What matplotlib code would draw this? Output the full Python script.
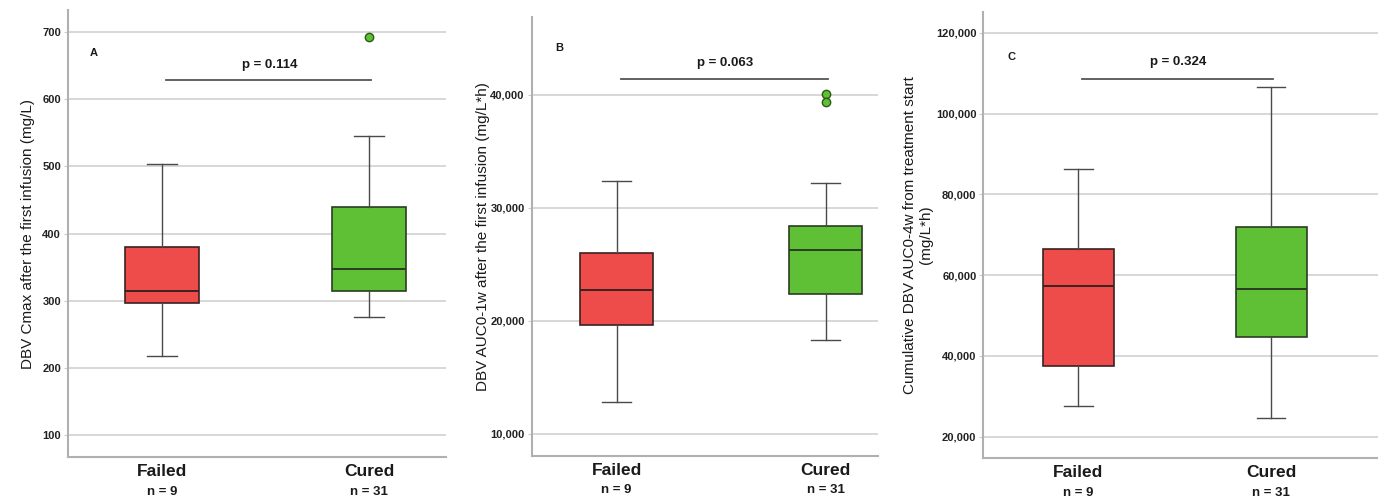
import matplotlib.pyplot as plt
from matplotlib.ticker import FuncFormatter
import numpy as np

plt.rcParams['font.family'] = ['Liberation Sans', 'DejaVu Sans']

groups = ['Failed', 'Cured']
n_labels = ['n = 9', 'n = 31']

# box stats: [Failed, Cured]
a_lo = [217, 276]
a_q1 = [296, 314]
a_med = [314, 347]
a_q3 = [380, 439]
a_hi = [504, 545]
a_fliers = [[], [693]]

b_lo = [12800, 18300]
b_q1 = [19650, 22400]
b_med = [22700, 26300]
b_q3 = [26050, 28450]
b_hi = [32350, 32250]
b_fliers = [[], [40050, 39350]]

c_lo = [27700, 24550]
c_q1 = [37600, 44600]
c_med = [57400, 56650]
c_q3 = [66400, 71800]
c_hi = [86200, 106600]
c_fliers = [[], []]

p_values = ['p = 0.114', 'p = 0.063', 'p = 0.324']
panel_tags = ['A', 'B', 'C']
ylabels = ['DBV Cmax after the first infusion (mg/L)',
           'DBV AUC0-1w after the first infusion (mg/L*h)',
           'Cumulative DBV AUC0-4w from treatment start\n(mg/L*h)']

fills = ['#EE4B4B', '#5FC036']
edges = ['#3b2222', '#2a3d22']

fig = plt.figure(figsize=(13.78, 4.98), dpi=100)

panels = [
    dict(pos=[0.0493, 0.0823, 0.2744, 0.8976], lo=a_lo, q1=a_q1, med=a_med, q3=a_q3, hi=a_hi,
         fl=a_fliers, ylim=(67, 733), xlim=(-0.455, 1.373), ticks=[100, 200, 300, 400, 500, 600, 700],
         fmt='{:.0f}', bracket=628, ptext=651, tag=(-0.33, 669), width=0.36, labx=35),
    dict(pos=[0.3858, 0.0843, 0.2511, 0.8815], lo=b_lo, q1=b_q1, med=b_med, q3=b_q3, hi=b_hi,
         fl=b_fliers, ylim=(8050, 46900), xlim=(-0.407, 1.249), ticks=[10000, 20000, 30000, 40000],
         fmt='{:,.0f}', bracket=41390, ptext=42860, tag=(-0.276, 44130), width=0.35, labx=490),
    dict(pos=[0.7136, 0.0809, 0.2864, 0.8956], lo=c_lo, q1=c_q1, med=c_med, q3=c_q3, hi=c_hi,
         fl=c_fliers, ylim=(14800, 125200), xlim=(-0.493, 1.555), ticks=[20000, 40000, 60000, 80000, 100000, 120000],
         fmt='{:,.0f}', bracket=108600, ptext=112750, tag=(-0.347, 114060), width=0.368, labx=933),
]

for i, p in enumerate(panels):
    ax = fig.add_axes(p['pos'])
    for k in range(2):
        st = dict(whislo=p['lo'][k], q1=p['q1'][k], med=p['med'][k],
                  q3=p['q3'][k], whishi=p['hi'][k], fliers=p['fl'][k])
        ax.bxp([st], positions=[k], widths=p['width'], patch_artist=True,
               showfliers=True,
               boxprops=dict(facecolor=fills[k], edgecolor=edges[k], linewidth=1.2),
               medianprops=dict(color=edges[k], linewidth=1.4),
               whiskerprops=dict(color='#4a4a4a', linewidth=1.0),
               capprops=dict(color='#4a4a4a', linewidth=1.0),
               capwidths=p['width'] * 0.4,
               flierprops=dict(marker='o', markerfacecolor=fills[k], markeredgecolor='#2a5a1a',
                               markersize=6, linestyle='none'),
               zorder=3)
    ax.set_xlim(*p['xlim'])
    ax.set_ylim(*p['ylim'])
    ax.set_yticks(p['ticks'])
    ax.yaxis.set_major_formatter(FuncFormatter(lambda v, pos, f=p['fmt']: f.format(v)))
    ax.set_xticks([0, 1])
    ax.set_xticklabels(groups, fontsize=12.5, fontweight='bold', color='#1a1a1a')
    ax.tick_params(axis='x', length=0, pad=5)
    ax.tick_params(axis='y', length=3, color='#cccccc', pad=2, labelsize=8)
    for lab in ax.get_yticklabels():
        lab.set_fontweight('bold')
        lab.set_color('#222222')
    ax.grid(axis='y', color='#d4d4d4', linewidth=1.3, zorder=0)
    ax.set_axisbelow(True)
    for s in ['top', 'right']:
        ax.spines[s].set_visible(False)
    for s in ['left', 'bottom']:
        ax.spines[s].set_color('#b0b0b0')
        ax.spines[s].set_linewidth(1.5)
    for k in range(2):
        ax.text(k, -0.078, n_labels[k], transform=ax.get_xaxis_transform(),
                ha='center', va='center', fontsize=9.5, fontweight='bold', color='#1a1a1a')
    # significance bracket
    ax.plot([0.02, 1.01], [p['bracket'], p['bracket']], color='#555555', linewidth=1.3)
    ax.text(0.52, p['ptext'], p_values[i], ha='center', va='center', fontsize=9.5,
            fontweight='bold', color='#1a1a1a')
    ax.text(p['tag'][0], p['tag'][1], panel_tags[i], ha='center', va='center',
            fontsize=8, fontweight='bold', color='#1a1a1a')
    ax.set_ylabel(ylabels[i], fontsize=11, color='#1a1a1a')
    ax.yaxis.set_label_coords((p['labx'] / 1378 - p['pos'][0]) / p['pos'][2], 0.5)

fig.savefig('out.png', dpi=100)
